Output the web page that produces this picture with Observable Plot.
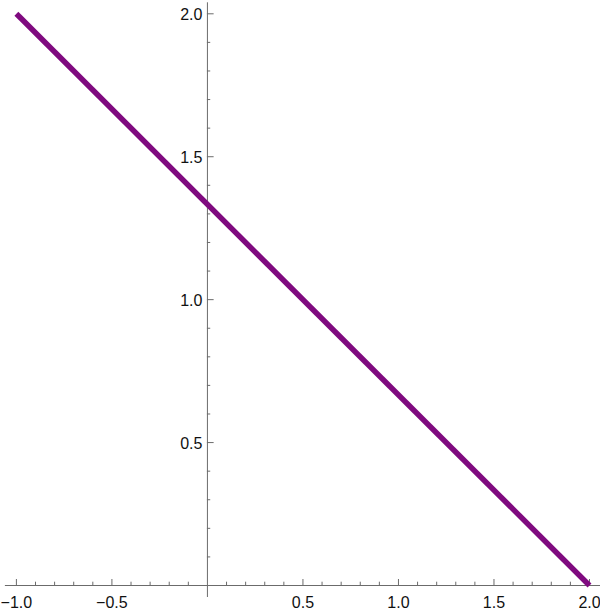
<!DOCTYPE html>
<html>
<head>
<meta charset="utf-8">
<script src="https://cdn.jsdelivr.net/npm/d3@7"></script>
<script src="https://cdn.jsdelivr.net/npm/@observablehq/plot@0.6"></script>
<style>
  html, body { margin: 0; padding: 0; background: #fff; }
  svg { display: block; }
</style>
</head>
<body>
<div id="chart"></div>
<script>
// Line 2x + 3y = 4 sampled at its ends
const lineX = [-1, 2];
const lineY = [2, 0];

const xMajor = [-1, -0.5, 0.5, 1, 1.5, 2];
const xMajorLabels = ["\u22121.0", "\u22120.5", "0.5", "1.0", "1.5", "2.0"];
const yMajor = [0.5, 1, 1.5, 2];
const yMajorLabels = ["0.5", "1.0", "1.5", "2.0"];

const isMajor = (v, arr) => arr.some(m => Math.abs(m - v) < 1e-9);
const xMinor = d3.range(-10, 21).map(i => i / 10).filter(v => Math.abs(v) > 1e-9 && !isMajor(v, xMajor));
const yMinor = d3.range(1, 21).map(i => i / 10).filter(v => !isMajor(v, yMajor));

const lineData = lineX.map((x, i) => ({x, y: lineY[i]}));
const axisColor = "#6b6b6b";
const font = "'Liberation Sans', Arial, Helvetica, sans-serif";

const chart = Plot.plot({
  width: 600,
  height: 611,
  margin: 0,
  style: {fontFamily: font, background: "#fff"},
  x: {domain: [-1, 2], range: [15.9, 589], axis: null},
  y: {domain: [0, 2], range: [585, 13.3], axis: null},
  marks: [
    // axes
    Plot.ruleY([0], {x1: -1, x2: 2, insetLeft: -11, insetRight: -12, stroke: axisColor, strokeWidth: 1}),
    Plot.ruleX([0], {y1: 2, y2: 0, insetTop: -11, insetBottom: -12, stroke: axisColor, strokeWidth: 1}),
    // x ticks
    Plot.ruleX(xMajor, {x: d => d, y1: 0, y2: 0, insetTop: -6, stroke: axisColor, strokeWidth: 1}),
    Plot.ruleX(xMinor, {x: d => d, y1: 0, y2: 0, insetTop: -3.3, stroke: axisColor, strokeWidth: 1}),
    // y ticks
    Plot.ruleY(yMajor, {y: d => d, x1: 0, x2: 0, insetRight: -6.7, stroke: axisColor, strokeWidth: 1}),
    Plot.ruleY(yMinor, {y: d => d, x1: 0, x2: 0, insetRight: -3.3, stroke: axisColor, strokeWidth: 1}),
    // labels
    Plot.text(xMajor, {x: d => d, y: 0, text: (d, i) => xMajorLabels[i], dy: 17, fontSize: 16, fill: "#111", textAnchor: "middle", lineAnchor: "middle"}),
    Plot.text(yMajor, {y: d => d, x: 0, text: (d, i) => yMajorLabels[i], dx: -5, dy: 1, fontSize: 16, fill: "#111", textAnchor: "end", lineAnchor: "middle"}),
    // the line
    Plot.line(lineData, {x: "x", y: "y", stroke: "#7f0a7f", strokeWidth: 5.5, strokeLinecap: "butt"})
  ]
});
document.getElementById("chart").appendChild(chart);
</script>
</body>
</html>
